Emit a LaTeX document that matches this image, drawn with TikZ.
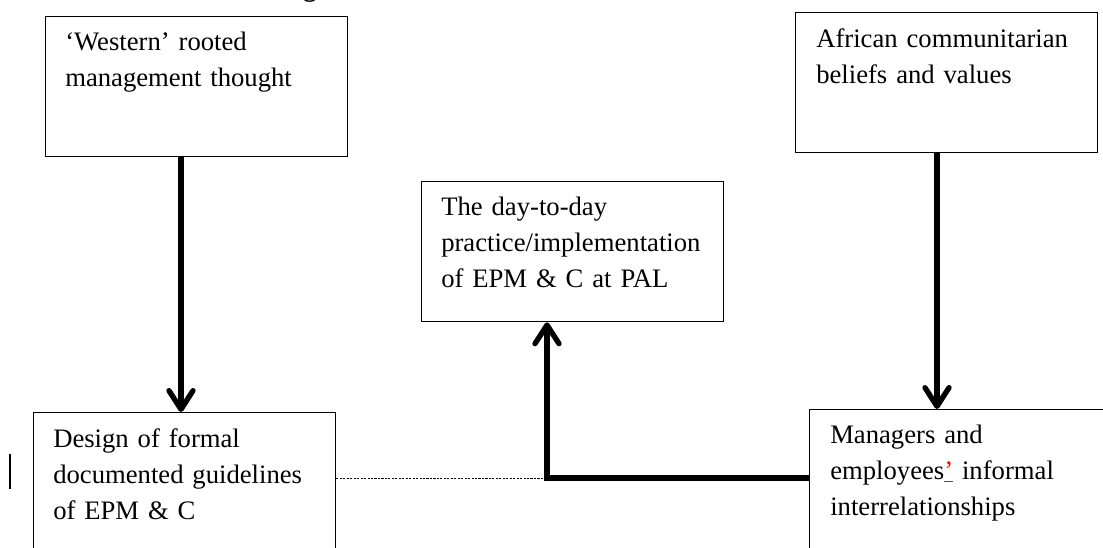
\documentclass[tikz,border=0pt]{standalone}
\usepackage{fontspec}
\setmainfont{Liberation Serif}
\usetikzlibrary{arrows.meta,calc}
\begin{document}
\begin{tikzpicture}[x=0.75pt,y=-0.75pt,
  box/.style={draw=black,line width=1pt,anchor=north west,inner sep=0pt,
    minimum width=226.5pt,minimum height=105pt},
  txt/.style={anchor=base west,align=left,inner sep=0pt,text width=220pt,
    font=\fontsize{20}{27}\selectfont},
  bigarrow/.style={line width=4pt,line join=miter,
    -{Straight Barb[length=14pt,width=18pt,round]}},
  dotline/.style={line width=0.6pt,dash pattern=on 1.6pt off 1pt}]
\useasboundingbox (0,0) rectangle (1103,547);
\clip (0,0) rectangle (1103,547);
% cut-off heading fragment
\node[anchor=south,inner sep=0pt,font=\fontsize{20}{24}\selectfont\bfseries] (head) at (310,3) {g};
% boxes
\node[box] (A) at (45,16) {};
\node[box] (B) at (795,12) {};
\node[box] (C) at (421,181) {};
\node[box] (D) at (33,412) {};
\node[box] (E) at (809,409) {};
% texts
\node[txt] (tA) at ([shift={(20,34)}]A.north west) {‘Western’ rooted\\management thought};
\node[txt] (tB) at ([shift={(21,35)}]B.north west) {African communitarian\\beliefs and values};
\node[txt] (tC) at ([shift={(20,34)}]C.north west) {The day-to-day\\practice/implementation\\of EPM \& C at PAL};
\node[txt] (tD) at ([shift={(20,35)}]D.north west) {Design of formal\\documented guidelines\\of EPM \& C};
\node[txt] (tE) at ([shift={(21,34)}]E.north west) {Managers and\\employees\textcolor{red}{\underline{’}} informal\\interrelationships};
% helper coordinates
\coordinate (xa) at (181,0);
\coordinate (xb) at (937,0);
\coordinate (k) at (547,478);
% connectors
\draw[bigarrow] (A.south -| xa) -- (D.north -| xa);
\draw[bigarrow] (B.south -| xb) -- (E.north -| xb);
\draw[bigarrow] (E.west |- k) -- (k) -- (k |- C.south);
\draw[dotline] (D.east |- k) -- (k);
% stray cursor bar
\draw[line width=1.1pt] (10,454) -- (10,489);
\end{tikzpicture}
\end{document}
